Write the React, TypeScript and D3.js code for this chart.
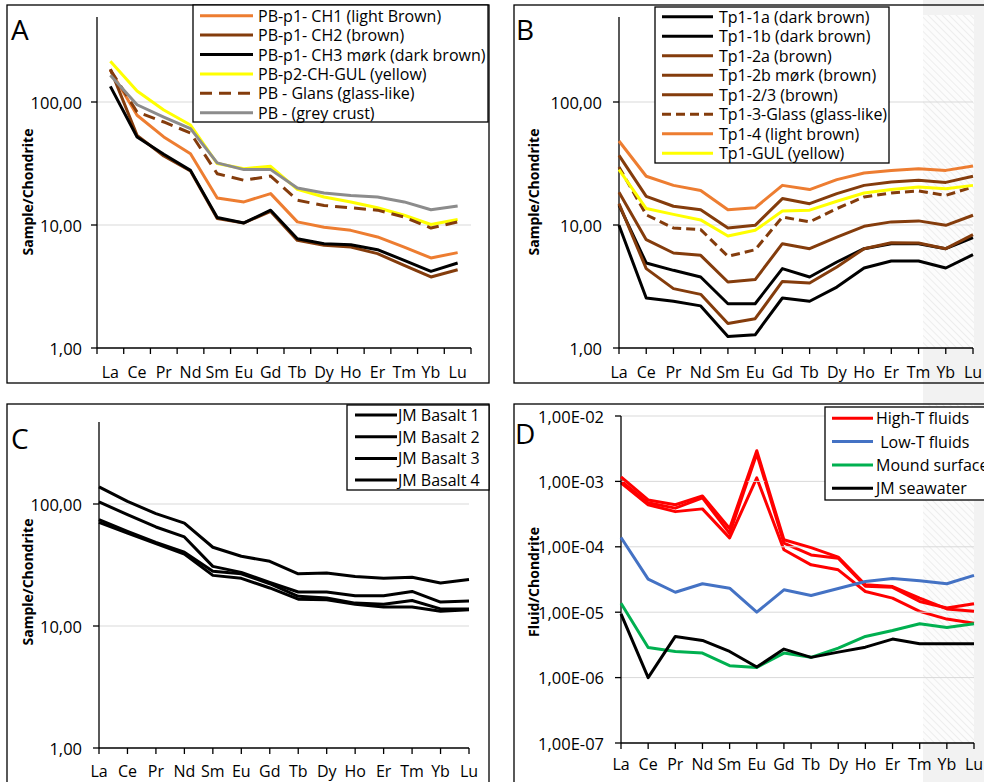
import React from 'react';
import * as d3 from 'd3';

const ELEMENTS = ['La', 'Ce', 'Pr', 'Nd', 'Sm', 'Eu', 'Gd', 'Tb', 'Dy', 'Ho', 'Er', 'Tm', 'Yb', 'Lu'];

// Panel A
const aCH1 = [181, 78, 52, 38, 16.6, 15.4, 18, 10.6, 9.6, 9.05, 8.0, 6.6, 5.4, 5.96];
const aCH2 = [185, 53.6, 36.4, 27.5, 11.3, 10.4, 12.9, 7.5, 6.84, 6.62, 5.85, 4.7, 3.78, 4.33];
const aCH3 = [134, 52, 37.6, 27.8, 11.5, 10.4, 13.2, 7.74, 7.05, 6.92, 6.3, 5.16, 4.2, 4.91];
const aGUL = [214, 123, 86, 65, 31.6, 28.7, 30, 19.5, 16.9, 15.4, 13.8, 12, 10.1, 11.1];
const aGlans = [183, 83, 68.8, 56, 26.1, 23.1, 25, 15.9, 14.4, 13.8, 13.2, 11.6, 9.45, 10.6];
const aGrey = [165, 95, 75.5, 60.7, 32, 28.2, 28.2, 20, 18.2, 17.4, 16.9, 15.4, 13.3, 14.3];

// Panel B
const b1a = [9.94, 2.55, 2.4, 2.2, 1.24, 1.28, 2.55, 2.4, 3.13, 4.47, 5.1, 5.1, 4.47, 5.74];
const b1b = [14.5, 4.91, 4.28, 3.78, 2.29, 2.29, 4.42, 3.78, 5.0, 6.42, 7.05, 7.05, 6.42, 7.89];
const b2a = [14.9, 4.42, 3.04, 2.73, 1.58, 1.73, 3.48, 3.38, 4.56, 6.42, 7.18, 7.14, 6.42, 8.35];
const b2b = [18.5, 7.6, 5.92, 5.67, 3.44, 3.6, 7.05, 6.42, 7.98, 9.75, 10.6, 10.8, 9.94, 12];
const b23 = [36.8, 17.1, 14.2, 13.3, 9.45, 9.94, 16.4, 14.9, 18, 21, 22.4, 23.1, 22.2, 24.9];
const bGlass = [29.6, 12.1, 9.45, 9.17, 5.56, 6.3, 11.6, 10.6, 13.6, 16.9, 18.2, 18.9, 17.4, 20.4];
const b4 = [48.2, 24.9, 21, 19.1, 13.3, 13.8, 21, 19.4, 23.4, 26.5, 27.8, 28.7, 27.8, 30.2];
const bGUL = [28.2, 13.6, 12.2, 11.0, 8.14, 9.05, 13, 13.2, 15.6, 18.2, 19.4, 20.4, 19.7, 21];

// Panel C
const c1 = [138, 105, 83.4, 69.8, 44.2, 37.3, 33.9, 26.8, 27.2, 25.5, 24.6, 25.1, 22.5, 24];
const c2 = [104, 81.8, 64.8, 53.7, 30.8, 27.5, 22.8, 19, 19, 17.7, 17.7, 19.2, 15.7, 16];
const c3 = [74.4, 59.7, 48.5, 40.2, 28.1, 26.8, 22.2, 17.5, 17, 15.4, 15.1, 16.2, 13.8, 13.8];
const c4 = [70.8, 57.8, 47.3, 38.9, 26, 24.6, 20.5, 16.6, 16.4, 15.1, 14.3, 14.3, 13.2, 13.6];

// Panel D
const dH1 = [1.17e-3, 5.2e-4, 4.4e-4, 6.0e-4, 1.9e-4, 2.95e-3, 1.28e-4, 9.7e-5, 6.95e-5, 2.62e-5, 2.47e-5, 1.64e-5, 1.12e-5, 1.03e-5];
const dH2 = [1.02e-3, 4.7e-4, 3.9e-4, 5.6e-4, 1.6e-4, 2.65e-3, 1.14e-4, 7.5e-5, 6.7e-5, 2.5e-5, 2.4e-5, 1.46e-5, 1.16e-5, 1.35e-5];
const dH3 = [9.5e-4, 4.4e-4, 3.45e-4, 3.8e-4, 1.37e-4, 1.13e-3, 9.0e-5, 5.3e-5, 4.45e-5, 2.07e-5, 1.64e-5, 1.03e-5, 7.85e-6, 6.8e-6];
const dLow = [1.39e-4, 3.2e-5, 2.02e-5, 2.72e-5, 2.33e-5, 1.0e-5, 2.2e-5, 1.8e-5, 2.3e-5, 2.95e-5, 3.27e-5, 3.02e-5, 2.72e-5, 3.65e-5];
const dMound = [1.37e-5, 2.89e-6, 2.51e-6, 2.37e-6, 1.52e-6, 1.43e-6, 2.37e-6, 2.04e-6, 2.83e-6, 4.26e-6, 5.26e-6, 6.65e-6, 5.85e-6, 6.65e-6];
const dSea = [9.45e-6, 1.0e-6, 4.26e-6, 3.7e-6, 2.51e-6, 1.45e-6, 2.73e-6, 2.04e-6, 2.45e-6, 2.92e-6, 3.88e-6, 3.29e-6, 3.29e-6, 3.29e-6];

const TICKS_ABC = [1, 10, 100];
const TICKS_D = [1e-7, 1e-6, 1e-5, 1e-4, 1e-3, 1e-2];

const ORANGE = '#ED7D31';
const BROWN = '#843C0C';
const YELLOW = '#FFFF00';
const GREY = '#8C8C8C';
const RED = '#FF0000';
const BLUE = '#4472C4';
const GREEN = '#00B050';

const FONT = "'Open Sans', 'DejaVu Sans', sans-serif";

const fmtComma = (v: number) => v.toFixed(2).replace('.', ',');
const fmtSci = (v: number) => {
  const e = Math.round(Math.log10(v));
  const s = e < 0 ? '-' : '+';
  return `1,00E${s}${String(Math.abs(e)).padStart(2, '0')}`;
};

type Series = { name: string; values: number[]; color: string; dash?: string };

type PanelProps = {
  box: [number, number, number, number];
  letter: string;
  letterPos: [number, number];
  xMode: 'band' | 'point';
  xRange: [number, number];
  yDomain: [number, number];
  yRange: [number, number];
  axisTop: number;
  ticks: number[];
  fmt: (v: number) => string;
  labelGap: number;
  xLabelY: number;
  title: string;
  titlePos: [number, number];
  series: Series[];
  legend: { x: number; y: number; w: number; h: number; s1: number; s2: number; tx: number; y0: number; dy: number };
};

function Panel(p: PanelProps) {
  const y = d3.scaleLog().domain(p.yDomain).range(p.yRange);
  let xPos: (c: string) => number;
  let tickXs: number[];
  if (p.xMode === 'band') {
    const xb = d3.scaleBand<string>().domain(ELEMENTS).range(p.xRange);
    xPos = (c) => (xb(c) as number) + xb.bandwidth() / 2;
    tickXs = [...ELEMENTS.map((c) => xb(c) as number), p.xRange[1]];
  } else {
    const xp = d3.scalePoint<string>().domain(ELEMENTS).range(p.xRange);
    xPos = (c) => xp(c) as number;
    tickXs = ELEMENTS.map((c) => xp(c) as number);
  }
  const ax = p.xRange[0];
  const y0 = y(p.yDomain[0]);
  const line = d3
    .line<number>()
    .x((_, i) => xPos(ELEMENTS[i]))
    .y((d) => y(d));
  const L = p.legend;
  return (
    <g>
      <rect x={p.box[0]} y={p.box[1]} width={p.box[2]} height={p.box[3]} fill="none" stroke="#000" strokeWidth={1.3} />
      {p.ticks
        .filter((t) => t > p.yDomain[0])
        .map((t) => (
          <line key={'g' + t} x1={ax} x2={p.xRange[1]} y1={y(t)} y2={y(t)} stroke="#D9D9D9" strokeWidth={1} />
        ))}
      <line x1={ax} x2={ax} y1={p.axisTop} y2={y0} stroke="#000" strokeWidth={1.3} />
      <line x1={ax} x2={p.xRange[1]} y1={y0} y2={y0} stroke="#000" strokeWidth={1.3} />
      {p.ticks.map((t) => (
        <g key={'t' + t}>
          <line x1={ax - 6} x2={ax} y1={y(t)} y2={y(t)} stroke="#000" strokeWidth={1.3} />
          <text x={ax - p.labelGap} y={y(t)} textAnchor="end" dominantBaseline="central" fontSize={16.5} fontFamily={FONT} fill="#000">
            {p.fmt(t)}
          </text>
        </g>
      ))}
      {tickXs.map((tx, i) => (
        <line key={'xt' + i} x1={tx} x2={tx} y1={y0} y2={y0 + 6} stroke="#000" strokeWidth={1.3} />
      ))}
      {ELEMENTS.map((c) => (
        <text key={'xl' + c} x={xPos(c)} y={p.xLabelY} textAnchor="middle" fontSize={16} fontFamily={FONT} fill="#000">
          {c}
        </text>
      ))}
      <text
        transform={`translate(${p.titlePos[0]},${p.titlePos[1]}) rotate(-90)`}
        textAnchor="middle"
        dominantBaseline="central"
        fontSize={14}
        fontWeight="bold"
        fontFamily={FONT}
        fill="#000"
      >
        {p.title}
      </text>
      {p.series.map((s) => (
        <path
          key={s.name}
          d={line(s.values) as string}
          fill="none"
          stroke={s.color}
          strokeWidth={3}
          strokeDasharray={s.dash}
          strokeLinejoin="round"
        />
      ))}
      <text x={p.letterPos[0]} y={p.letterPos[1]} fontSize={28} fontFamily={FONT} fill="#000">
        {p.letter}
      </text>
      <rect x={L.x} y={L.y} width={L.w} height={L.h} fill="#fff" stroke="#000" strokeWidth={1.3} />
      {p.series.map((s, i) => (
        <g key={'lg' + s.name}>
          <line x1={L.s1} x2={L.s2} y1={L.y0 + i * L.dy} y2={L.y0 + i * L.dy} stroke={s.color} strokeWidth={3} strokeDasharray={s.dash} />
          <text
            x={L.tx}
            y={L.y0 + i * L.dy}
            dominantBaseline="central"
            fontSize={16}
            fontFamily={FONT}
            fill="#000"
            style={{ whiteSpace: 'pre' }}
          >
            {s.name}
          </text>
        </g>
      ))}
    </g>
  );
}

export default function App() {
  const seriesA: Series[] = [
    { name: 'PB-p1- CH1 (light Brown)', values: aCH1, color: ORANGE },
    { name: 'PB-p1- CH2 (brown)', values: aCH2, color: BROWN },
    { name: 'PB-p1- CH3 mørk (dark brown)', values: aCH3, color: '#000' },
    { name: 'PB-p2-CH-GUL (yellow)', values: aGUL, color: YELLOW },
    { name: 'PB - Glans (glass-like)', values: aGlans, color: BROWN, dash: '12,7' },
    { name: 'PB - (grey crust)', values: aGrey, color: GREY },
  ];
  const seriesB: Series[] = [
    { name: 'Tp1-1a (dark brown)', values: b1a, color: '#000' },
    { name: 'Tp1-1b (dark brown)', values: b1b, color: '#000' },
    { name: 'Tp1-2a (brown)', values: b2a, color: BROWN },
    { name: 'Tp1-2b mørk (brown)', values: b2b, color: BROWN },
    { name: 'Tp1-2/3 (brown)', values: b23, color: BROWN },
    { name: 'Tp1-3-Glass (glass-like)', values: bGlass, color: BROWN, dash: '9,5' },
    { name: 'Tp1-4 (light brown)', values: b4, color: ORANGE },
    { name: 'Tp1-GUL (yellow)', values: bGUL, color: YELLOW },
  ];
  const seriesC: Series[] = [
    { name: 'JM Basalt 1', values: c1, color: '#000' },
    { name: 'JM Basalt 2', values: c2, color: '#000' },
    { name: 'JM Basalt 3', values: c3, color: '#000' },
    { name: 'JM Basalt 4', values: c4, color: '#000' },
  ];
  const seriesDdraw: Series[] = [
    { name: 'h2', values: dH2, color: RED },
    { name: 'h3', values: dH3, color: RED },
  ];
  const seriesD: Series[] = [
    { name: 'High-T fluids', values: dH1, color: RED },
    { name: ' Low-T fluids', values: dLow, color: BLUE },
    { name: 'Mound surface', values: dMound, color: GREEN },
    { name: 'JM seawater', values: dSea, color: '#000' },
  ];
  const yD = d3.scaleLog().domain([1e-7, 1e-2]).range([743, 416]);
  const xD = d3.scalePoint<string>().domain(ELEMENTS).range([621, 974]);
  const lineD = d3
    .line<number>()
    .x((_, i) => xD(ELEMENTS[i]) as number)
    .y((d) => yD(d));

  return (
    <svg width={984} height={782} style={{ position: 'absolute', left: 0, top: 0, background: '#fff' }}>
      <defs>
        <pattern id="hatch" patternUnits="userSpaceOnUse" width={5} height={5} patternTransform="rotate(-45)">
          <rect width={5} height={5} fill="#FCFCFC" />
          <line x1={0} y1={0} x2={0} y2={5} stroke="#EDEDED" strokeWidth={2} />
        </pattern>
      </defs>
      <rect x={0} y={0} width={984} height={782} fill="#fff" />
      <rect x={923} y={0} width={61} height={782} fill="#F2F2F2" />
      <rect x={923} y={15} width={51} height={333} fill="url(#hatch)" />
      <rect x={923} y={404} width={51} height={339} fill="url(#hatch)" />

      <Panel
        box={[7, 5, 482, 378]}
        letter="A"
        letterPos={[11, 40]}
        xMode="band"
        xRange={[97, 471]}
        yDomain={[1, 100]}
        yRange={[348, 102]}
        axisTop={17}
        ticks={TICKS_ABC}
        fmt={fmtComma}
        labelGap={15}
        xLabelY={378}
        title="Sample/Chondrite"
        titlePos={[27, 192]}
        series={seriesA}
        legend={{ x: 193, y: 5, w: 295, h: 117, s1: 200, s2: 253, tx: 258, y0: 15.7, dy: 19.4 }}
      />
      <Panel
        box={[514, 5, 480, 378]}
        letter="B"
        letterPos={[516, 40]}
        xMode="point"
        xRange={[619, 973]}
        yDomain={[1, 100]}
        yRange={[348, 102]}
        axisTop={17}
        ticks={TICKS_ABC}
        fmt={fmtComma}
        labelGap={17}
        xLabelY={378}
        title="Sample/Chondrite"
        titlePos={[533, 192]}
        series={seriesB}
        legend={{ x: 655, y: 7, w: 234, h: 156, s1: 662, s2: 713, tx: 719, y0: 16.7, dy: 19.5 }}
      />
      <Panel
        box={[7, 404, 482, 400]}
        letter="C"
        letterPos={[11, 449]}
        xMode="point"
        xRange={[99, 469]}
        yDomain={[1, 100]}
        yRange={[748, 504]}
        axisTop={422}
        ticks={TICKS_ABC}
        fmt={fmtComma}
        labelGap={17}
        xLabelY={777}
        title="Sample/Chondrite"
        titlePos={[27.5, 582]}
        series={seriesC}
        legend={{ x: 347, y: 405, w: 142, h: 85, s1: 355, s2: 397, tx: 398, y0: 415, dy: 21.7 }}
      />
      <g>
        {seriesDdraw.map((s) => (
          <path key={s.name} d={lineD(s.values) as string} fill="none" stroke={s.color} strokeWidth={3} strokeLinejoin="round" />
        ))}
      </g>
      <Panel
        box={[514, 404, 480, 400]}
        letter="D"
        letterPos={[515, 444]}
        xMode="point"
        xRange={[621, 974]}
        yDomain={[1e-7, 1e-2]}
        yRange={[743, 416]}
        axisTop={416}
        ticks={TICKS_D}
        fmt={fmtSci}
        labelGap={17}
        xLabelY={770}
        title="Fluid/Chondrite"
        titlePos={[533, 582]}
        series={seriesD}
        legend={{ x: 825, y: 407, w: 170, h: 93, s1: 832, s2: 873, tx: 876, y0: 418.3, dy: 23.3 }}
      />
    </svg>
  );
}
